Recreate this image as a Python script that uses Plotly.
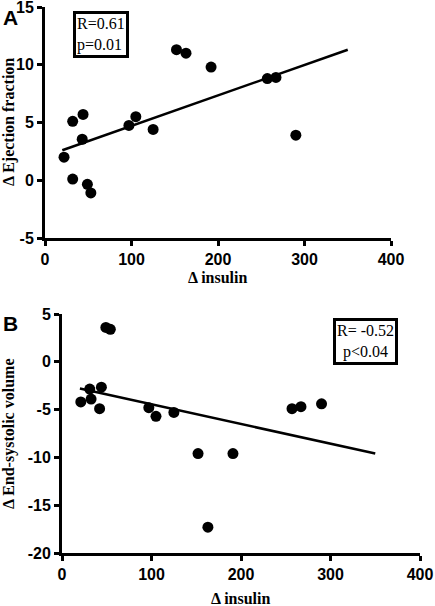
import plotly.graph_objects as go

W, H = 435, 606

# ---- data ----
insulin_a = [22, 32, 32, 43, 44, 49, 53, 97, 105, 125, 152, 163, 192, 257, 267, 290]
ef_change = [2.0, 5.1, 0.1, 3.55, 5.7, -0.35, -1.1, 4.75, 5.5, 4.4, 11.3, 11.0, 9.8, 8.8, 8.9, 3.9]
fit_a_x = [20, 350]
fit_a_y = [2.6, 11.3]

insulin_b = [21, 31, 32.5, 42, 44, 49, 54, 97, 105, 125, 152, 163, 191, 257, 267, 290]
esv_change = [-4.2, -2.85, -3.9, -4.9, -2.65, 3.6, 3.4, -4.8, -5.7, -5.3, -9.6, -17.3, -9.6, -4.9, -4.7, -4.4]
fit_b_x = [20, 350]
fit_b_y = [-2.8, -9.6]

x_ticks = [0, 100, 200, 300, 400]
y_ticks_a = [-5, 0, 5, 10, 15]
y_ticks_b = [-20, -15, -10, -5, 0, 5]
x_tick_labels = ["0", "100", "200", "300", "400"]
y_tick_labels_a = ["-5", "0", "5", "10", "15"]
y_tick_labels_b = ["-20", "-15", "-10", "-5", "0", "5"]

def px(x):
    return x / W

def py(y):
    return 1 - y / H

fig = go.Figure()
mk = dict(color="black", size=11)
fig.add_trace(go.Scatter(x=insulin_a, y=ef_change, mode="markers", marker=mk, xaxis="x", yaxis="y"))
fig.add_trace(go.Scatter(x=fit_a_x, y=fit_a_y, mode="lines", line=dict(color="black", width=2.5), xaxis="x", yaxis="y"))
fig.add_trace(go.Scatter(x=insulin_b, y=esv_change, mode="markers", marker=mk, xaxis="x2", yaxis="y2"))
fig.add_trace(go.Scatter(x=fit_b_x, y=fit_b_y, mode="lines", line=dict(color="black", width=2.5), xaxis="x2", yaxis="y2"))

tickfont = dict(family="Liberation Sans, Arial", size=16, color="black", weight="bold")
axcommon = dict(showline=True, linecolor="black", linewidth=3, ticks="outside", ticklen=5,
                tickwidth=2.5, tickcolor="black", showgrid=False, zeroline=False,
                tickfont=tickfont, fixedrange=True, automargin=False,
                ticklabeloverflow="allow", tickmode="array")

fig.update_layout(
    template="none",
    width=W, height=H, margin=dict(l=0, r=0, t=0, b=0, autoexpand=False),
    paper_bgcolor="white", plot_bgcolor="white", showlegend=False,
    xaxis=dict(domain=[px(45), px(391)], range=[0, 400], tickvals=x_ticks, ticktext=x_tick_labels,
               anchor="y", **axcommon),
    yaxis=dict(domain=[py(238), py(7)], range=[-5, 15], tickvals=y_ticks_a, ticktext=y_tick_labels_a,
               anchor="x", **axcommon),
    xaxis2=dict(domain=[px(62), px(420)], range=[0, 400], tickvals=x_ticks, ticktext=x_tick_labels,
                anchor="y2", **axcommon),
    yaxis2=dict(domain=[py(553), py(314)], range=[-20, 5], tickvals=y_ticks_b, ticktext=y_tick_labels_b,
                anchor="x2", **axcommon),
)

serif_b = dict(family="Liberation Serif, Times New Roman", size=16, color="black")
serif = dict(family="Liberation Serif, Times New Roman", size=16, color="black")
annots = [
    dict(text="<b>A</b>", x=px(1), y=py(4), xanchor="left", yanchor="top",
         font=dict(family="Liberation Sans, Arial", size=21, color="black")),
    dict(text="<b>B</b>", x=px(1), y=py(310), xanchor="left", yanchor="top",
         font=dict(family="Liberation Sans, Arial", size=21, color="black")),
    dict(text="<b>Δ insulin</b>", x=px(218), y=py(277), xanchor="center", yanchor="middle", font=serif_b),
    dict(text="<b>Δ insulin</b>", x=px(241), y=py(598), xanchor="center", yanchor="middle", font=serif_b),
    dict(text="<b>Δ Ejection fraction</b>", x=px(9), y=py(122), xanchor="center", yanchor="middle",
         textangle=-90, font=serif_b),
    dict(text="<b>Δ End-systolic volume</b>", x=px(9), y=py(434), xanchor="center", yanchor="middle",
         textangle=-90, font=serif_b),
    dict(text="R=0.61<br>p=0.01", x=px(101), y=py(34.5), xanchor="center", yanchor="middle",
         align="left", font=serif, bordercolor="black", borderwidth=3, borderpad=1, bgcolor="white"),
    dict(text="R= -0.52<br>p<0.04", x=px(365), y=py(342), xanchor="center", yanchor="middle",
         align="center", font=serif, bordercolor="black", borderwidth=3, borderpad=1, bgcolor="white"),
]
for a in annots:
    a.update(xref="paper", yref="paper", showarrow=False)
fig.update_layout(annotations=annots)

fig.write_html("out.html", config={"displayModeBar": False},
               post_script="document.body.style.margin='0';document.body.style.overflow='hidden';")
